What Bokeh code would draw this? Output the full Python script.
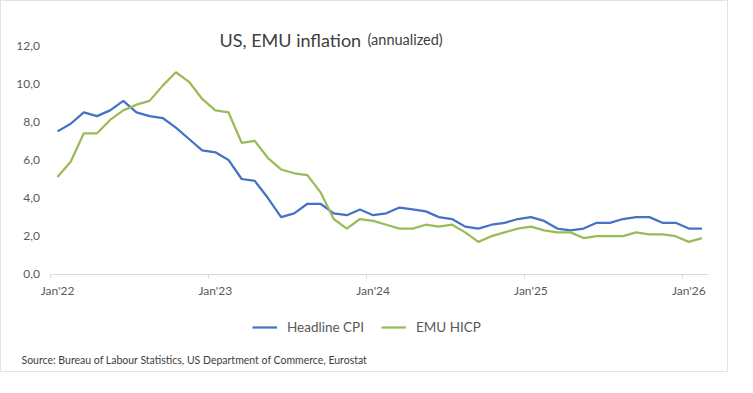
from bokeh.plotting import figure
from bokeh.models import Label, Legend, LegendItem, FixedTicker, Range1d, Title
from bokeh.embed import file_html
from bokeh.resources import INLINE

months = [f"{m} {y}" for y in (2022, 2023, 2024, 2025) for m in
          ["Jan", "Feb", "Mar", "Apr", "May", "Jun", "Jul", "Aug", "Sep", "Oct", "Nov", "Dec"]] + ["Jan 2026", "Feb 2026"]

us_cpi = [7.5, 7.9, 8.5, 8.3, 8.6, 9.1, 8.5, 8.3, 8.2, 7.7, 7.1, 6.5,
          6.4, 6.0, 5.0, 4.9, 4.0, 3.0, 3.2, 3.7, 3.7, 3.2, 3.1, 3.4,
          3.1, 3.2, 3.5, 3.4, 3.3, 3.0, 2.9, 2.5, 2.4, 2.6, 2.7, 2.9,
          3.0, 2.8, 2.4, 2.3, 2.4, 2.7, 2.7, 2.9, 3.0, 3.0, 2.7, 2.7,
          2.4, 2.4]

emu_hicp = [5.1, 5.9, 7.4, 7.4, 8.1, 8.6, 8.9, 9.1, 9.9, 10.6, 10.1, 9.2,
            8.6, 8.5, 6.9, 7.0, 6.1, 5.5, 5.3, 5.2, 4.3, 2.9, 2.4, 2.9,
            2.8, 2.6, 2.4, 2.4, 2.6, 2.5, 2.6, 2.2, 1.7, 2.0, 2.2, 2.4,
            2.5, 2.3, 2.2, 2.2, 1.9, 2.0, 2.0, 2.0, 2.2, 2.1, 2.1, 2.0,
            1.7, 1.9]

x_tick_labels = ["Jan'22", "Jan'23", "Jan'24", "Jan'25", "Jan'26"]
y_ticks = [0, 2, 4, 6, 8, 10, 12]
y_tick_labels = ["0,0", "2,0", "4,0", "6,0", "8,0", "10,0", "12,0"]

FONT = "Lato"
TXT = "#595959"
BLUE = "#4472C4"
GREEN = "#9BBB59"

n = len(months)
xs = [i + 0.5 for i in range(n)]

PX = 19.0  # pixels per unit on the y axis
p = figure(width=728, height=372, x_range=Range1d(-3, n),
           y_range=Range1d(-72 / PX, 259 / PX),
           output_backend="svg", toolbar_location=None,
           min_border_left=10, min_border_right=21, min_border_top=13, min_border_bottom=27)
p.styles = {"border": "1px solid #e3e3e3"}
p.outline_line_color = None
p.border_fill_color = "white"
p.xgrid.visible = False
p.ygrid.visible = False

r1 = p.line(xs, us_cpi, line_color=BLUE, line_width=2.25)
r2 = p.line(xs, emu_hicp, line_color=GREEN, line_width=2.25)

major = [12 * k + 0.5 for k in range(len(x_tick_labels))]
minor = [12 * k for k in range(len(x_tick_labels))]
p.xaxis.fixed_location = 0
p.xaxis.bounds = (0, n)
p.xaxis.ticker = FixedTicker(ticks=major, minor_ticks=minor)
p.xaxis.major_label_overrides = {t: l for t, l in zip(major, x_tick_labels)}
p.xaxis.axis_line_color = "#d9d9d9"
p.xaxis.major_tick_line_color = None
p.xaxis.major_tick_out = 0
p.xaxis.major_tick_in = 0
p.xaxis.minor_tick_line_color = "#d9d9d9"
p.xaxis.minor_tick_out = 4
p.xaxis.minor_tick_in = 0
p.xaxis.major_label_standoff = 5
p.xaxis.major_label_text_font = FONT
p.xaxis.major_label_text_font_size = "12px"
p.xaxis.major_label_text_color = TXT

p.yaxis.fixed_location = 0
p.yaxis.bounds = (0, 12)
p.yaxis.ticker = FixedTicker(ticks=y_ticks)
p.yaxis.major_label_overrides = {t: l for t, l in zip(y_ticks, y_tick_labels)}
p.yaxis.axis_line_color = None
p.yaxis.major_tick_line_color = None
p.yaxis.minor_tick_line_color = None
p.yaxis.major_tick_out = 0
p.yaxis.major_label_standoff = 11
p.yaxis.major_label_text_font = FONT
p.yaxis.major_label_text_font_size = "12px"
p.yaxis.major_label_text_color = TXT

legend = Legend(items=[LegendItem(label="Headline CPI", renderers=[r1]),
                       LegendItem(label="EMU HICP", renderers=[r2])],
                orientation="horizontal", location=(241, 9),
                border_line_color=None, background_fill_alpha=0,
                label_text_font=FONT, label_text_font_size="13.5px", label_text_color=TXT,
                glyph_width=25, label_standoff=10, spacing=17, padding=0, margin=0)
p.add_layout(legend, "center")

p.add_layout(Title(text="Source: Bureau of Labour Statistics, US Department of Commerce, Eurostat",
                   align="left", offset=10, standoff=10,
                   text_font=FONT, text_font_size="10.5px", text_font_style="normal",
                   text_color="#404040"), "below")

p.add_layout(Label(x=208, y=307, x_units="screen", y_units="screen", text="US, EMU inflation",
                   text_font=FONT, text_font_size="18px", text_color="#404040",
                   text_baseline="alphabetic"))
p.add_layout(Label(x=356, y=307, x_units="screen", y_units="screen", text="(annualized)",
                   text_font=FONT, text_font_size="14.5px", text_color="#404040",
                   text_baseline="alphabetic"))

open("out.html", "w").write(file_html(p, INLINE))
